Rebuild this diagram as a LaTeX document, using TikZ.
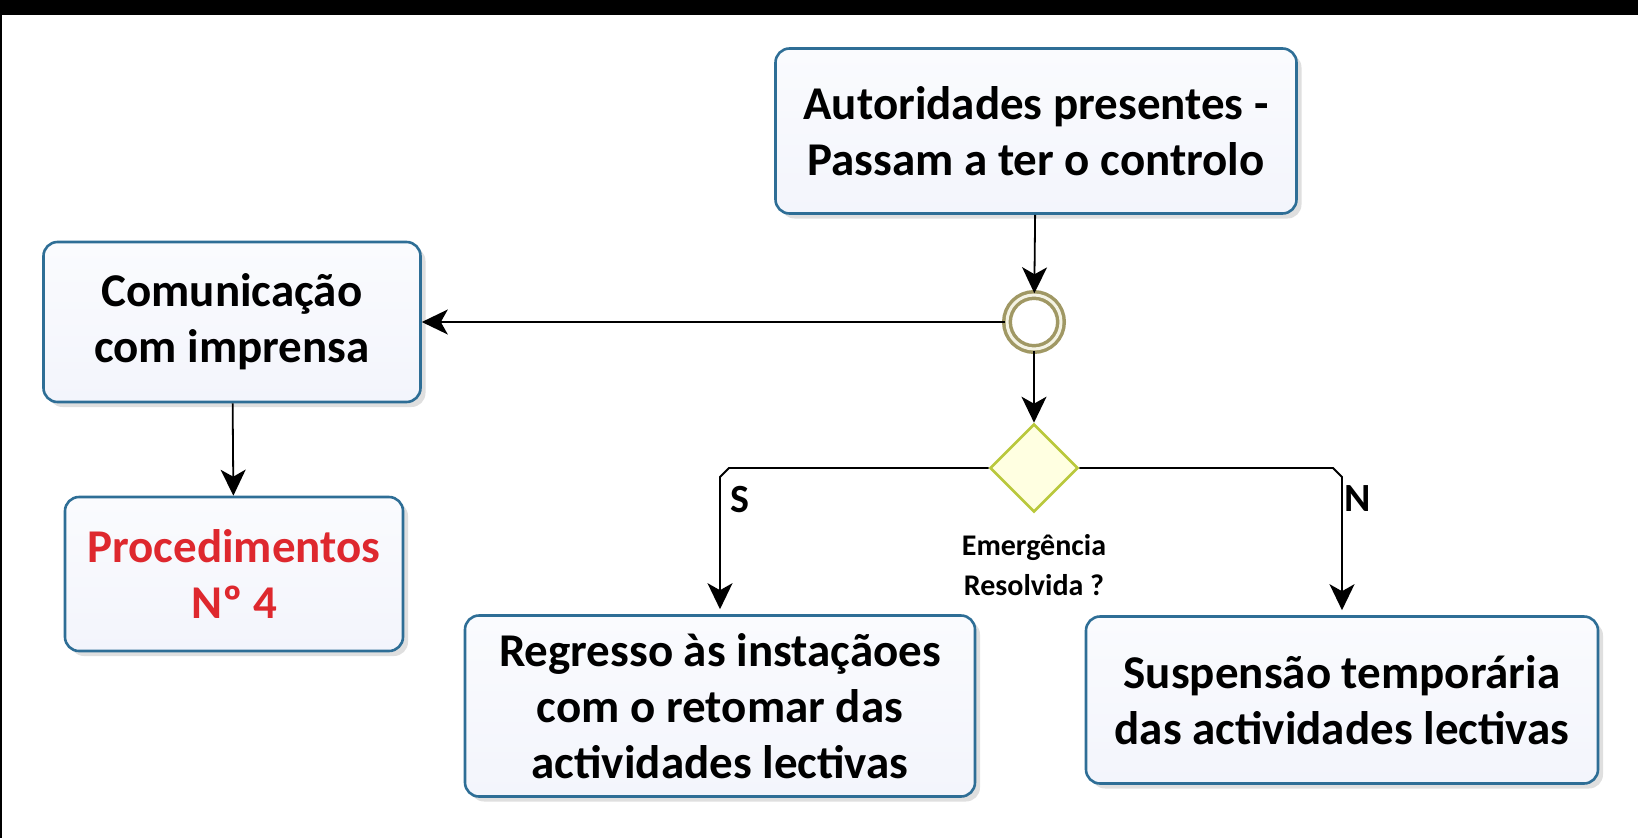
\documentclass[tikz,border=0pt]{standalone}
\usepackage{fontspec}
\setmainfont{Carlito}
\usetikzlibrary{shapes,arrows.meta,positioning,shadows}

\definecolor{boxline}{RGB}{46,110,150}
\definecolor{boxfill}{RGB}{243,245,252}
\definecolor{ringline}{RGB}{160,152,100}
\definecolor{gateline}{RGB}{185,200,60}
\definecolor{gatefill}{RGB}{255,255,225}
\definecolor{procred}{RGB}{222,40,46}

\begin{document}
\begin{tikzpicture}[x=1pt, y=-1pt, font=\bfseries]
    % Styles
    \tikzstyle{task} = [rectangle, draw=boxline, line width=2.6pt, rounded corners=14pt, top color=white!60!boxfill, bottom color=boxfill, align=center, font=\fontsize{47}{56}\selectfont\bfseries, drop shadow={shadow xshift=5pt, shadow yshift=-5pt, opacity=0.25, fill=gray}]
    \tikzstyle{event} = [circle, draw=ringline, line width=3.5pt, double=gatefill!70!ringline!40, double distance=3pt, fill=white, minimum size=54pt, inner sep=0pt]
    \tikzstyle{gateway} = [diamond, draw=gateline, line width=2.6pt, fill=gatefill, minimum size=88pt, inner sep=0pt]
    \tikzstyle{arrow} = [-{Stealth[length=26pt, width=25pt, inset=7pt]}, line width=1.8pt]
    \tikzstyle{branch_label} = [font=\fontsize{40}{42}\selectfont\bfseries]

    % Frame
    \useasboundingbox (0,0) rectangle (1638,838);
    \fill[black] (0,0) rectangle (1638,15);
    \fill[black] (0,0) rectangle (2,838);

    % Tasks
    \node [task, minimum width=521pt, minimum height=165pt] (auth) at (1036,131) {Autoridades presentes -\\Passam a ter o controlo};
    \node [task, minimum width=377pt, minimum height=160pt] (com) at (232,322) {Comunicação\\com imprensa};
    \node [task, minimum width=338pt, minimum height=154pt, text=procred] (proc) at (234,574) {Procedimentos\\Nº 4};
    \node [task, minimum width=510pt, minimum height=181pt] (reg) at (720,706) {Regresso às instaçãoes\\com o retomar das\\actividades lectivas};
    \node [task, minimum width=512pt, minimum height=167pt] (susp) at (1342,700) {Suspensão temporária\\das actividades lectivas};

    % Event and gateway
    \node [event] (ev) at (1034,322) {};
    \node [gateway] (gw) at (1034,468) {};
    \node [align=center, font=\fontsize{30}{40}\selectfont\bfseries] (gwlabel) at (1034,565) {Emergência\\Resolvida ?};

    % Connections
    \draw [arrow] (auth) -- (ev);
    \draw [arrow] (ev) -- (com);
    \draw [arrow] (com) -- (proc);
    \draw [arrow] (ev) -- (gw);

    % Branches
    \draw [arrow, shorten >=5pt] (gw.west) -- ([xshift=9pt]gw.west -| reg.north) -- ([yshift=-9pt]gw.west -| reg.north) -- (reg.north);
    \draw [arrow, shorten >=5pt] (gw.east) -- ([xshift=-9pt]gw.east -| susp.north) -- ([yshift=-9pt]gw.east -| susp.north) -- (susp.north);

    % Labels
    \node [branch_label] (yes) at (740,500) {S};
    \node [branch_label] (no) at (1358,499) {N};

\end{tikzpicture}
\end{document}
